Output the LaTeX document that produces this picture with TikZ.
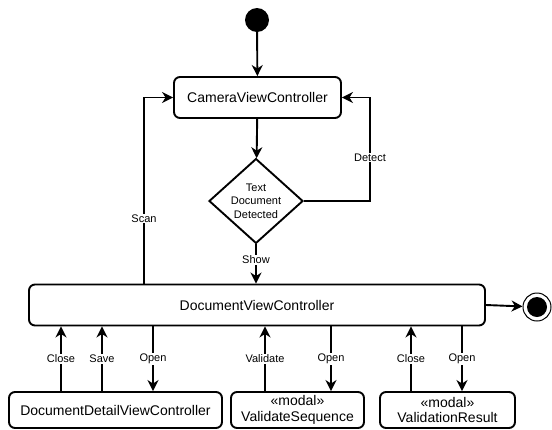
\documentclass[tikz,border=0pt]{standalone}
\usepackage{fontspec}
\setmainfont{Liberation Sans}
\usetikzlibrary{shapes.geometric,arrows.meta}
\begin{document}
\begin{tikzpicture}[x=1pt,y=-1pt,
  box/.style={draw,line width=1.9pt,rounded corners=6pt,align=center,font=\fontsize{14}{15.5}\selectfont,inner sep=0pt},
  flow/.style={line width=1.9pt,-{Stealth[length=11pt,width=11pt,inset=3.5pt]}},
  lbl/.style={fill=white,font=\fontsize{11}{12}\selectfont,inner sep=1pt}]
\useasboundingbox (0,0) rectangle (552,429);
\node[circle,fill=black,minimum size=24pt,inner sep=0pt] (start) at (257,20) {};
\node[box,minimum width=167pt,minimum height=41pt] (cam) at (257.5,97.5) {CameraViewController};
\node[draw,diamond,line width=1.9pt,minimum width=94pt,minimum height=82pt,inner sep=0pt,align=center,font=\fontsize{11}{13.5}\selectfont] (dec) at (256,201) {Text\\Document\\Detected};
\node[box,minimum width=456pt,minimum height=41pt] (dvc) at (257,305) {DocumentViewController};
\node[circle,draw,line width=1pt,minimum size=28pt,inner sep=0pt] (end) at (537,307) {};
\node[circle,fill=black,minimum size=20pt,inner sep=0pt] at (end) {};
\node[box,minimum width=213pt,minimum height=36pt] (ddv) at (115.5,410) {DocumentDetailViewController};
\node[box,minimum width=133pt,minimum height=36pt] (vs) at (297.5,410) {«modal»\\ValidateSequence};
\node[box,minimum width=135pt,minimum height=36pt] (vr) at (447.5,410) {«modal»\\ValidationResult};
\coordinate (sc1) at (144,97.5);
\coordinate (dt1) at (370,201);
\coordinate (dt2) at (370,97.5);
\draw[flow] (start) -- (cam);
\draw[flow] (cam) -- (dec);
\draw[flow] (dec) -- node[lbl,pos=0.4]{Show} (dvc.north -| dec);
\draw[flow] (dec.east) -- (dt1) -- node[lbl,pos=0.42]{Detect} (dt2) -- (cam.east);
\draw[flow] (dvc.north -| sc1) -- node[lbl,pos=0.35]{Scan} (sc1) -- (cam.west);
\draw[flow] (dvc.east) -- (end);
\draw[flow] (ddv.north -| 61,0) -- node[lbl]{Close} (dvc.south -| 61,0);
\draw[flow] (ddv.north -| 102,0) -- node[lbl]{Save} (dvc.south -| 102,0);
\draw[flow] (dvc.south -| 153,0) -- node[lbl]{Open} (ddv.north -| 153,0);
\draw[flow] (vs.north -| 265,0) -- node[lbl]{Validate} (dvc.south -| 265,0);
\draw[flow] (dvc.south -| 331,0) -- node[lbl]{Open} (vs.north -| 331,0);
\draw[flow] (vr.north -| 411,0) -- node[lbl]{Close} (dvc.south -| 411,0);
\draw[flow] (dvc.south -| 462,0) -- node[lbl]{Open} (vr.north -| 462,0);
\end{tikzpicture}
\end{document}
